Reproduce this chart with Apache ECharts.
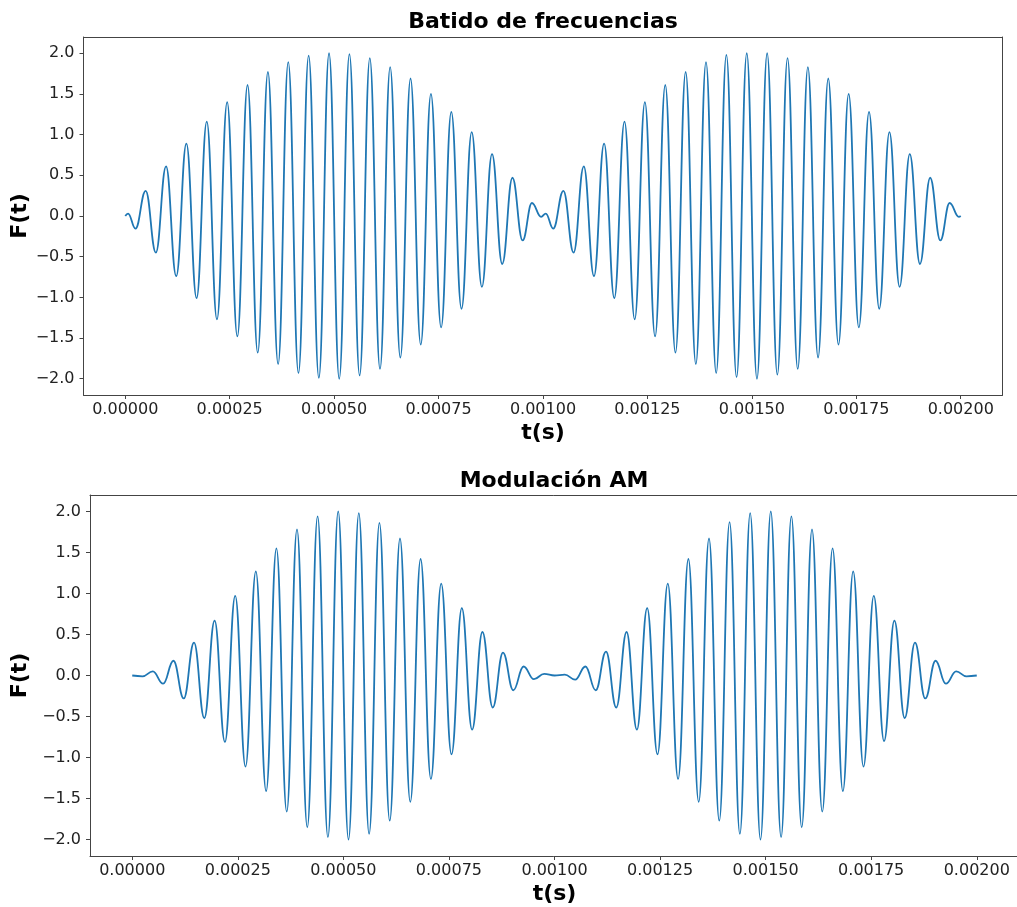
<!DOCTYPE html>
<html>
<head>
<meta charset="utf-8">
<script src="https://cdn.jsdelivr.net/npm/echarts@6/dist/echarts.min.js"></script>
<style>
html,body{margin:0;padding:0;background:#fff;}
#chart{width:1017px;height:907px;}
</style>
</head>
<body>
<div id="chart"></div>
<script>
// Time in microseconds, values read at each peak / trough of the curves
const topT = [0, 6.7, 24.4, 48.8, 73.2, 97.6, 122.0, 146.3, 170.7, 195.1, 219.5, 243.9, 268.3, 292.7, 317.1, 341.5, 365.9, 390.2, 414.6, 439.0, 463.4, 487.8, 512.2, 536.6, 561.0, 585.4, 609.8, 634.1, 658.5, 682.9, 707.3, 731.7, 756.1, 780.5, 804.9, 829.3, 853.7, 878.0, 902.4, 926.8, 951.2, 973.5, 995.5, 1006.7, 1024.4, 1048.8, 1073.2, 1097.6, 1122.0, 1146.3, 1170.7, 1195.1, 1219.5, 1243.9, 1268.3, 1292.7, 1317.1, 1341.5, 1365.9, 1390.2, 1414.6, 1439.0, 1463.4, 1487.8, 1512.2, 1536.6, 1561.0, 1585.4, 1609.8, 1634.1, 1658.5, 1682.9, 1707.3, 1731.7, 1756.1, 1780.5, 1804.9, 1829.3, 1853.7, 1878.0, 1902.4, 1926.8, 1951.2, 1973.5, 1995.5, 2000];
const topV = [0.00, 0.03, -0.155, 0.31, -0.45, 0.61, -0.74, 0.89, -1.01, 1.16, -1.27, 1.40, -1.48, 1.61, -1.68, 1.77, -1.82, 1.89, -1.93, 1.97, -1.99, 2.00, -2.00, 1.99, -1.96, 1.94, -1.88, 1.83, -1.74, 1.69, -1.58, 1.50, -1.37, 1.28, -1.14, 1.03, -0.87, 0.76, -0.59, 0.47, -0.30, 0.16, -0.01, 0.03, -0.155, 0.31, -0.45, 0.61, -0.74, 0.89, -1.01, 1.16, -1.27, 1.40, -1.48, 1.61, -1.68, 1.77, -1.82, 1.89, -1.93, 1.98, -1.98, 2.00, -2.00, 2.00, -1.95, 1.94, -1.88, 1.83, -1.74, 1.69, -1.58, 1.50, -1.37, 1.28, -1.14, 1.03, -0.87, 0.76, -0.59, 0.47, -0.30, 0.16, -0.01, 0.00];

const botT = [0, 24.4, 48.8, 73.2, 97.6, 122.0, 146.3, 170.7, 195.1, 219.5, 243.9, 268.3, 292.7, 317.1, 341.5, 365.9, 390.2, 414.6, 439.0, 463.4, 487.8, 512.2, 536.6, 561.0, 585.4, 609.8, 634.1, 658.5, 682.9, 707.3, 731.7, 756.1, 780.5, 804.9, 829.3, 853.7, 878.0, 902.4, 926.8, 951.2, 975.6, 1000, 1024.4, 1048.8, 1073.2, 1097.6, 1122.0, 1146.3, 1170.7, 1195.1, 1219.5, 1243.9, 1268.3, 1292.7, 1317.1, 1341.5, 1365.9, 1390.2, 1414.6, 1439.0, 1463.4, 1487.8, 1512.2, 1536.6, 1561.0, 1585.4, 1609.8, 1634.1, 1658.5, 1682.9, 1707.3, 1731.7, 1756.1, 1780.5, 1804.9, 1829.3, 1853.7, 1878.0, 1902.4, 1926.8, 1951.2, 1975.6, 2000];
const botV = [0.00, -0.01, 0.05, -0.10, 0.18, -0.28, 0.40, -0.52, 0.67, -0.81, 0.97, -1.11, 1.27, -1.41, 1.55, -1.66, 1.78, -1.85, 1.94, -1.97, 2.00, -2.00, 1.98, -1.93, 1.86, -1.77, 1.67, -1.54, 1.42, -1.26, 1.12, -0.96, 0.82, -0.66, 0.53, -0.39, 0.28, -0.18, 0.11, -0.045, 0.02, 0.00, 0.01, -0.05, 0.11, -0.18, 0.29, -0.39, 0.53, -0.66, 0.82, -0.96, 1.12, -1.26, 1.42, -1.54, 1.67, -1.77, 1.87, -1.93, 1.98, -2.00, 2.00, -1.97, 1.94, -1.85, 1.78, -1.66, 1.55, -1.41, 1.27, -1.11, 0.97, -0.80, 0.67, -0.52, 0.40, -0.28, 0.18, -0.10, 0.05, -0.01, 0.00];

const xTicks = [0, 250, 500, 750, 1000, 1250, 1500, 1750, 2000];
const yTicks = [-2.0, -1.5, -1.0, -0.5, 0.0, 0.5, 1.0, 1.5, 2.0];
const titles = ['Batido de frecuencias', 'Modulación AM'];
const xName = 't(s)';
const yName = 'F(t)';

const FONT = '"DejaVu Sans", "Liberation Sans", sans-serif';
const frame = '#444';

function pairs(ts, vs) { return ts.map((t, i) => [t, vs[i]]); }

function xAxisCfg(gi) {
  return {
    gridIndex: gi, type: 'value', min: -100, max: 2100, position: 'bottom',
    name: xName, nameLocation: 'middle', nameGap: 27, nameMoveOverlap: false,
    nameTextStyle: { fontFamily: FONT, fontSize: 22, fontWeight: 'bold', color: '#000' },
    axisLine: { show: true, onZero: false, lineStyle: { color: frame, width: 1 } },
    splitLine: { show: false },
    axisTick: { show: true, customValues: xTicks, length: 4, lineStyle: { color: frame, width: 1 } },
    axisLabel: { show: true, customValues: xTicks, margin: 7, fontFamily: FONT, fontSize: 16, color: '#222',
      formatter: v => (v / 1e6).toFixed(5) }
  };
}
function topLineAxis(gi) {
  return {
    gridIndex: gi, type: 'value', min: -100, max: 2100, position: 'top',
    axisLine: { show: true, onZero: false, lineStyle: { color: frame, width: 1 } },
    axisTick: { show: false }, axisLabel: { show: false }, splitLine: { show: false }
  };
}
function rightLineAxis(gi) {
  return {
    gridIndex: gi, type: 'value', min: -2.2, max: 2.2, position: 'right',
    axisLine: { show: true, onZero: false, lineStyle: { color: frame, width: 1 } },
    axisTick: { show: false }, axisLabel: { show: false }, splitLine: { show: false }
  };
}
function yAxisCfg(gi, gap) {
  return {
    gridIndex: gi, type: 'value', min: -2.2, max: 2.2, position: 'left',
    name: yName, nameLocation: 'middle', nameGap: gap, nameRotate: 90, nameMoveOverlap: false,
    nameTextStyle: { fontFamily: FONT, fontSize: 22, fontWeight: 'bold', color: '#000' },
    axisLine: { show: true, onZero: false, lineStyle: { color: frame, width: 1 } },
    splitLine: { show: false },
    axisTick: { show: true, customValues: yTicks, length: 4, lineStyle: { color: frame, width: 1 } },
    axisLabel: { show: true, customValues: yTicks, margin: 9, fontFamily: FONT, fontSize: 16, color: '#222',
      formatter: v => v.toFixed(1).replace('-', '\u2212') }
  };
}
function seriesCfg(gi, data) {
  return {
    type: 'line', xAxisIndex: gi, yAxisIndex: gi, data: data,
    showSymbol: false, symbol: 'none', smooth: 0.43, smoothMonotone: 'x',
    lineStyle: { color: '#1f77b4', width: 1.8 }, animation: false
  };
}

const chart = echarts.init(document.getElementById('chart'), null, { renderer: 'canvas' });
chart.setOption({
  animation: false,
  backgroundColor: '#fff',
  grid: [
    { left: 83.5, top: 37, width: 919, height: 358, outerBoundsMode: 'none', containLabel: false, show: false },
    { left: 90, top: 495, width: 929, height: 361, outerBoundsMode: 'none', containLabel: false, show: false }
  ],
  xAxis: [xAxisCfg(0), xAxisCfg(1), topLineAxis(0), topLineAxis(1)],
  yAxis: [yAxisCfg(0, 52.5), yAxisCfg(1, 59), rightLineAxis(0)],
  series: [seriesCfg(0, pairs(topT, topV)), seriesCfg(1, pairs(botT, botV))],
  graphic: [
    { type: 'text', x: 543, y: 22, style: { text: titles[0], font: 'bold 22px ' + FONT, fill: '#000', align: 'center', verticalAlign: 'middle' } },
    { type: 'text', x: 554, y: 481, style: { text: titles[1], font: 'bold 22px ' + FONT, fill: '#000', align: 'center', verticalAlign: 'middle' } }
  ]
});
</script>
</body>
</html>
